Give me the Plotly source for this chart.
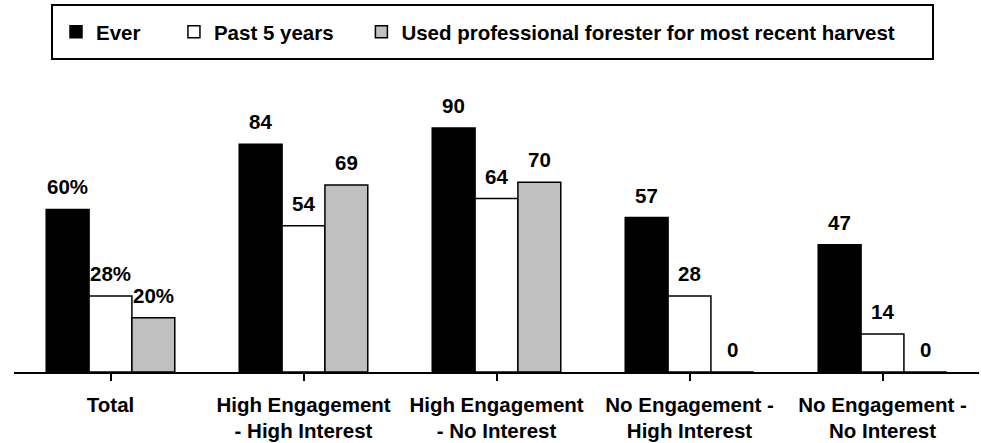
import plotly.graph_objects as go

categories = ["Total", "High Engagement<br>- High Interest", "High Engagement<br>- No Interest",
              "No Engagement -<br>High Interest", "No Engagement -<br>No Interest"]
series_names = ["Ever", "Past 5 years", "Used professional forester for most recent harvest"]
ever = [60, 84, 90, 57, 47]
past5 = [28, 54, 64, 28, 14]
forester = [20, 69, 70, 0, 0]
label_suffix = ["%", "", "", "", ""]

series_values = [ever, past5, forester]
colors = ["#000000", "#FFFFFF", "#C0C0C0"]
legend_pad = [5, 4, 4]  # trailing non-breaking spaces for legend spacing

W, H = 981, 443
ML, MR, MT, MB = 14, 2, 101, 71
FONT = "Arial, Liberation Sans, sans-serif"
FS = 20.5
bw = 0.222  # bar width in category units

pw = W - ML - MR
ph = H - MT - MB


def px_x(p):
    return (p - ML) / pw


def px_y(p):
    return (H - MB - p) / ph


fig = go.Figure()
idx = list(range(len(categories)))
annotations = []
for j, (name, vals, col) in enumerate(zip(series_names, series_values, colors)):
    off = -1.5 * bw + j * bw
    fig.add_trace(go.Bar(
        x=idx, y=vals, name=name + "\u00a0" * legend_pad[j], width=bw, offset=off,
        marker=dict(color=col, line=dict(color="black", width=1.5)),
    ))
    for i, v in enumerate(vals):
        annotations.append(dict(
            x=i + off + bw / 2, y=v, xref="x", yref="y",
            text=f"{v}{label_suffix[i]}", showarrow=False,
            yanchor="bottom", yshift=9,
            font=dict(family=FONT, size=FS, color="black", weight="bold"),
        ))

fig.update_layout(
    width=W, height=H,
    margin=dict(l=ML, r=MR, t=MT, b=MB, pad=0),
    plot_bgcolor="white", paper_bgcolor="white",
    barmode="overlay",
    showlegend=True,
    legend=dict(
        orientation="h", x=px_x(56), xanchor="left",
        y=px_y(32), yanchor="middle",
        borderwidth=0, bgcolor="rgba(0,0,0,0)",
        font=dict(family=FONT, size=FS, color="black", weight="bold"),
        itemclick=False, itemdoubleclick=False,
    ),
    shapes=[dict(type="rect", xref="paper", yref="paper",
                 x0=px_x(52), x1=px_x(933), y0=px_y(59), y1=px_y(5),
                 line=dict(color="black", width=2), fillcolor="rgba(0,0,0,0)")],
    annotations=annotations,
    xaxis=dict(
        tickmode="array", tickvals=idx, ticktext=categories,
        range=[-0.5, len(categories) - 0.5],
        tickson="boundaries", ticks="outside", ticklen=7, tickwidth=2, tickcolor="black",
        showline=True, linecolor="black", linewidth=2,
        showgrid=False, zeroline=False,
        ticklabelstandoff=6,
        tickfont=dict(family=FONT, size=FS, color="black", weight="bold"),
    ),
    yaxis=dict(range=[0, 100], visible=False, showgrid=False, zeroline=False),
)
fig.write_html("out.html")
